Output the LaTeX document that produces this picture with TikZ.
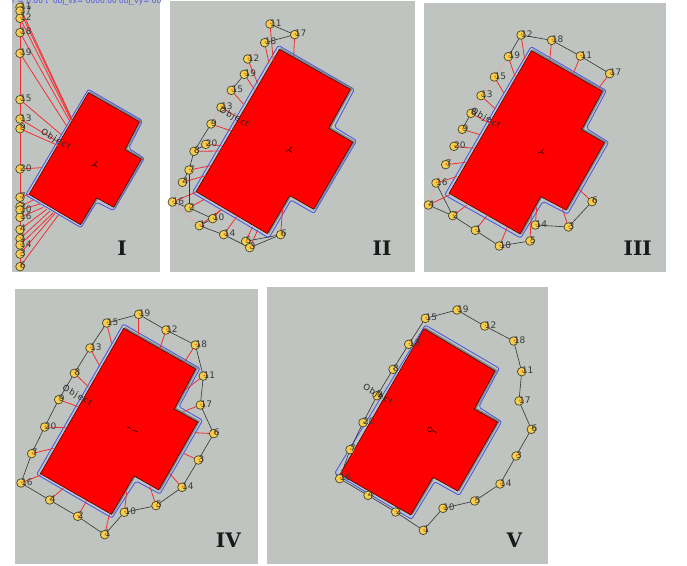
\documentclass[tikz,border=0pt]{standalone}
\usepackage{fontspec}
\setmainfont{DejaVu Sans}
\newfontfamily\romanfont{DejaVu Serif}
\pgfdeclarelayer{back}\pgfdeclarelayer{lines}
\pgfsetlayers{back,lines,main}
\definecolor{panelgray}{HTML}{BFC4C0}
\definecolor{bandgray}{HTML}{7F827F}
\definecolor{offsetblue}{HTML}{4A55E6}
\definecolor{mkfill}{HTML}{F4D050}
\definecolor{mkline}{HTML}{4A4628}
\definecolor{paleedge}{HTML}{E3A9A6}
\definecolor{tietone}{HTML}{F22E34}
\tikzset{
  panelbox/.style={fill=panelgray,draw=none},
  offsetline/.style={draw=offsetblue,line width=.85pt,rounded corners=2pt,line join=round},
  bandshape/.style={fill=bandgray,draw=bandgray,line width=1pt,line join=round},
  bodyshape/.style={fill=red,draw=black!85!red,line width=.45pt},
  tie/.style={draw=tietone,line width=.8pt},
  edge/.style={draw=black!80,line width=.6pt},
  paleline/.style={draw=paleedge,line width=.6pt},
  vlabel/.style={font=\fontsize{9}{10}\selectfont,text=black!78,inner sep=0pt,anchor=west},
  marker/.style={circle,fill=mkfill,draw=mkline,line width=.7pt,minimum size=8.6pt,inner sep=0pt,
    path picture={\fill[orange!85!red] (path picture bounding box.center) ++(.8pt,.6pt) circle (1pt);}},
  objlabel/.style={font=\fontsize{8.5}{9}\selectfont\addfontfeature{LetterSpace=12},text=black!85,inner sep=0pt,rotate=-30},
  numeral/.style={font=\romanfont\bfseries\fontsize{20}{22}\selectfont,text=black!90,inner sep=0pt},
}
\newcommand{\building}[2]{%
  \begin{pgfonlayer}{back}
    \draw[offsetline] #2 -- cycle;
    \path[bandshape,shift={(1.6pt,.6pt)}] #1 -- cycle;
    \path[bodyshape] #1 -- cycle;
  \end{pgfonlayer}}
% markers with their labels: name/x/y
\newcommand{\vertsonly}[2]{%
  \foreach \n/\vx/\vy in {#2}{%
    \node[marker] (#1-\n) at (\vx,\vy) {};
    \node[vlabel,yshift=1pt] (#1-l\n) at (\vx,\vy) {\n};}}
% ties to the body: name/x of free end/y of free end
\newcommand{\ties}[2]{%
  \begin{pgfonlayer}{lines}
  \foreach \n/\ex/\ey in {#2}{%
    \coordinate (#1-e\n) at (\ex,\ey);
    \draw[tie] (#1-\n.center) -- (#1-e\n);}
  \end{pgfonlayer}}
\newcommand{\links}[3]{%
  \begin{pgfonlayer}{lines}
  \foreach \a/\b in {#3}{\draw[#2] (#1-\a.center) -- (#1-\b.center);}
  \end{pgfonlayer}}
\newcommand{\tripod}[2]{%
  \draw[black,line width=.5pt] (#1,#2) -- ++(8,-10) (#1,#2) -- ++(-9,4) (#1,#2) -- ++(9,8);}
\begin{document}
\begin{tikzpicture}[x=1pt,y=-1pt]
\useasboundingbox (0,0) rectangle (687,565);
\begin{pgfonlayer}{back}
\path[panelbox] (12,0) rectangle (160,272);
\path[panelbox] (170,1) rectangle (415,272);
\path[panelbox] (424,3) rectangle (666,272);
\path[panelbox] (15,289) rectangle (258,564);
\path[panelbox] (267,287) rectangle (548,564);
\end{pgfonlayer}
% ---------- I
\begin{scope}[x=.33333pt,y=-.33333pt]
\building{(265,278) -- (418,365) -- (375,449) -- (424,477) -- (341,622) -- (290,594) -- (241,674) -- (87,583)}
         {(265,268) -- (428,362) -- (386,445) -- (433,475) -- (341,632) -- (290,606) -- (243,683) -- (77,585)}
\vertsonly{a}{11/60/22, 17/60/33, 12/60/55, 18/60/98, 19/60/160, 15/60/299, 13/60/357, 9/60/386, 20/60/507, 7/60/592,
  2/60/620, 10/60/630, 16/60/652, 4/60/689, 1/60/716, 14/60/735, 3/60/762, 6/60/800}
\ties{a}{11/215/355, 17/215/358, 12/213/360, 18/210/365, 19/200/378, 15/185/405, 13/182/430, 9/175/437, 20/125/503, 7/87/583,
  2/100/600, 10/120/612, 16/130/622, 4/140/628, 1/150/633, 14/160/638, 3/165/640, 6/175/645}
\links{a}{tie,line width=1pt}{11/6}
\node[objlabel] (a-obj) at (167,420) {Object};
\tripod{283}{494}
\node[numeral] (a-num) at (366,745) {I};
\begin{scope}
\clip (36,0) rectangle (480,30);
\node[font=\fontsize{7.5}{8}\selectfont,text=offsetblue,inner sep=0pt,anchor=base west] (a-top) at (36,9) {r = 0.00 t\ \ obj\_vx= 0000.00 obj\_vy= 000};
\end{scope}
\end{scope}
% ---------- II
\begin{scope}[shift={(165pt,0pt)},x=.33333pt,y=-.33333pt]
\building{(343,148) -- (556,268) -- (491,385) -- (563,427) -- (446,628) -- (374,587) -- (307,701) -- (93,575)}
         {(340,136) -- (568,268) -- (508,381) -- (575,422) -- (447,640) -- (378,600) -- (312,714) -- (82,578)}
\vertsonly{b}{11/315/72, 17/389/104, 18/299/128, 12/248/177, 19/238/223, 15/199/271, 13/168/322, 9/138/372, 20/122/433, 8/87/454,
  7/72/510, 4/52/547, 16/22/606, 2/72/623, 1/103/677, 10/143/656, 14/176/704, 5/242/724, 3/254/743, 6/347/704}
\ties{b}{11/325/185, 17/386/172, 18/312/190, 12/278/250, 19/268/268, 15/235/312, 13/215/350, 9/197/392, 20/170/437, 8/165/453,
  7/138/497, 4/122/527, 16/92/577, 2/118/598, 1/170/628, 10/165/632, 14/215/650, 5/262/682, 3/278/690, 6/353/625}
\links{b}{edge}{11/17,17/18,19/15,9/8,20/8,8/7,7/4,16/2,2/10,10/1,1/14,14/3,3/6,5/6,2/7}
\links{b}{paleline}{18/12,12/19,15/13,13/9,4/16,16/1}
\node[objlabel] (b-obj) at (208,352) {Object};
\tripod{372}{450}
\node[numeral] (b-num) at (651,745) {II};
\end{scope}
% ---------- III
\begin{scope}[shift={(420pt,0pt)},x=.33333pt,y=-.33333pt]
\building{(334,152) -- (547,274) -- (485,389) -- (553,428) -- (438,630) -- (362,590) -- (300,702) -- (87,580)}
         {(333,140) -- (559,272) -- (499,385) -- (566,427) -- (443,642) -- (369,604) -- (302,714) -- (74,585)}
\vertsonly{c}{12/303/105, 18/395/121, 11/481/168, 17/569/221, 6/516/605, 3/445/681, 14/346/675, 5/330/723, 10/238/738, 1/166/691,
  2/98/647, 4/25/615, 16/48/549, 7/77/494, 20/102/439, 9/127/388, 8/153/340, 13/183/287, 15/223/231, 19/265/170}
\ties{c}{12/314/178, 18/389/183, 11/461/218, 17/533/268, 6/477/568, 3/427/625, 14/350/622, 5/334/640, 10/262/682, 1/200/648,
  2/140/616, 4/90/584, 16/110/530, 7/137/487, 20/165/445, 9/180/404, 8/210/370, 13/225/326, 15/252/280, 19/285/230}
\links{c}{edge}{19/12,12/18,18/11,11/17,6/3,3/14,5/10,10/1,1/2,2/4,2/16,9/8}
\links{c}{paleline}{4/16,16/7,7/20,20/9,8/13,13/15,15/19}
\node[objlabel] (c-obj) at (197,355) {Object};
\tripod{364}{455}
\node[numeral] (c-num) at (653,745) {III};
\end{scope}
% ---------- IV
\begin{scope}[shift={(10pt,-285pt)},x=.33333pt,y=-.33333pt]
\building{(341,130) -- (557,252) -- (493,372) -- (563,411) -- (446,615) -- (372,573) -- (304,688) -- (91,566)}
         {(340,117) -- (570,250) -- (507,365) -- (578,406) -- (450,627) -- (378,588) -- (306,699) -- (80,568)}
\vertsonly{d}{16/33/594, 7/65/506, 20/104/426, 9/146/344, 8/193/265, 13/240/189, 15/290/114, 19/386/88, 12/468/135, 18/556/180,
  11/580/273, 17/571/360, 6/611/446, 3/565/525, 14/516/607, 5/438/662, 10/343/682, 1/284/749, 2/203/694, 4/119/645}
\ties{d}{16/92/570, 7/130/490, 20/167/428, 9/205/365, 8/235/305, 13/270/245, 15/305/175, 19/385/150, 12/450/190, 18/523/232,
  11/525/315, 17/520/380, 6/553/443, 3/520/505, 14/478/565, 5/420/605, 10/350/620, 1/300/680, 2/230/648, 4/160/610}
\links{d}{edge}{16/7,7/20,20/9,9/8,8/13,13/15,15/19,19/12,12/18,18/11,11/17,17/6,6/3,3/14,14/5,5/10,10/1,1/2,2/4,4/16}
\node[objlabel] (d-obj) at (202,333) {Object};
\draw[black,line width=.5pt] (352,425) -- (362,430) (365,435) -- (382,440);
\node[numeral] (d-num) at (655,765) {IV};
\end{scope}
% ---------- V
\begin{scope}[shift={(262pt,-285pt)},x=.33333pt,y=-.33333pt]
\building{(486,131) -- (699,258) -- (637,372) -- (707,411) -- (587,618) -- (513,577) -- (446,690) -- (234,568)}
         {(490,120) -- (712,250) -- (650,366) -- (719,410) -- (592,631) -- (518,590) -- (449,703) -- (218,565)}
\vertsonly{e}{16/233/581, 7/264/494, 20/303/413, 9/345/332, 8/393/253, 13/440/178, 15/490/100, 19/585/75, 12/668/123, 18/755/168,
  11/779/260, 17/771/348, 6/808/433, 3/762/513, 14/714/597, 5/638/648, 10/543/670, 1/484/736, 2/401/681, 4/318/631}
\ties{e}{16/240/553}
\links{e}{edge}{16/7,7/20,20/9,9/8,8/13,13/15,15/19,19/12,12/18,18/11,11/17,17/6,6/3,3/14,14/5,5/10,10/1,1/2,2/4,4/16}
\node[objlabel] (e-obj) at (347,330) {Object};
\draw[black!80!red,line width=.6pt] (503,433) circle (7) (510,436) -- (525,443);
\node[numeral] (e-num) at (757,765) {V};
\end{scope}
\end{tikzpicture}
\end{document}
